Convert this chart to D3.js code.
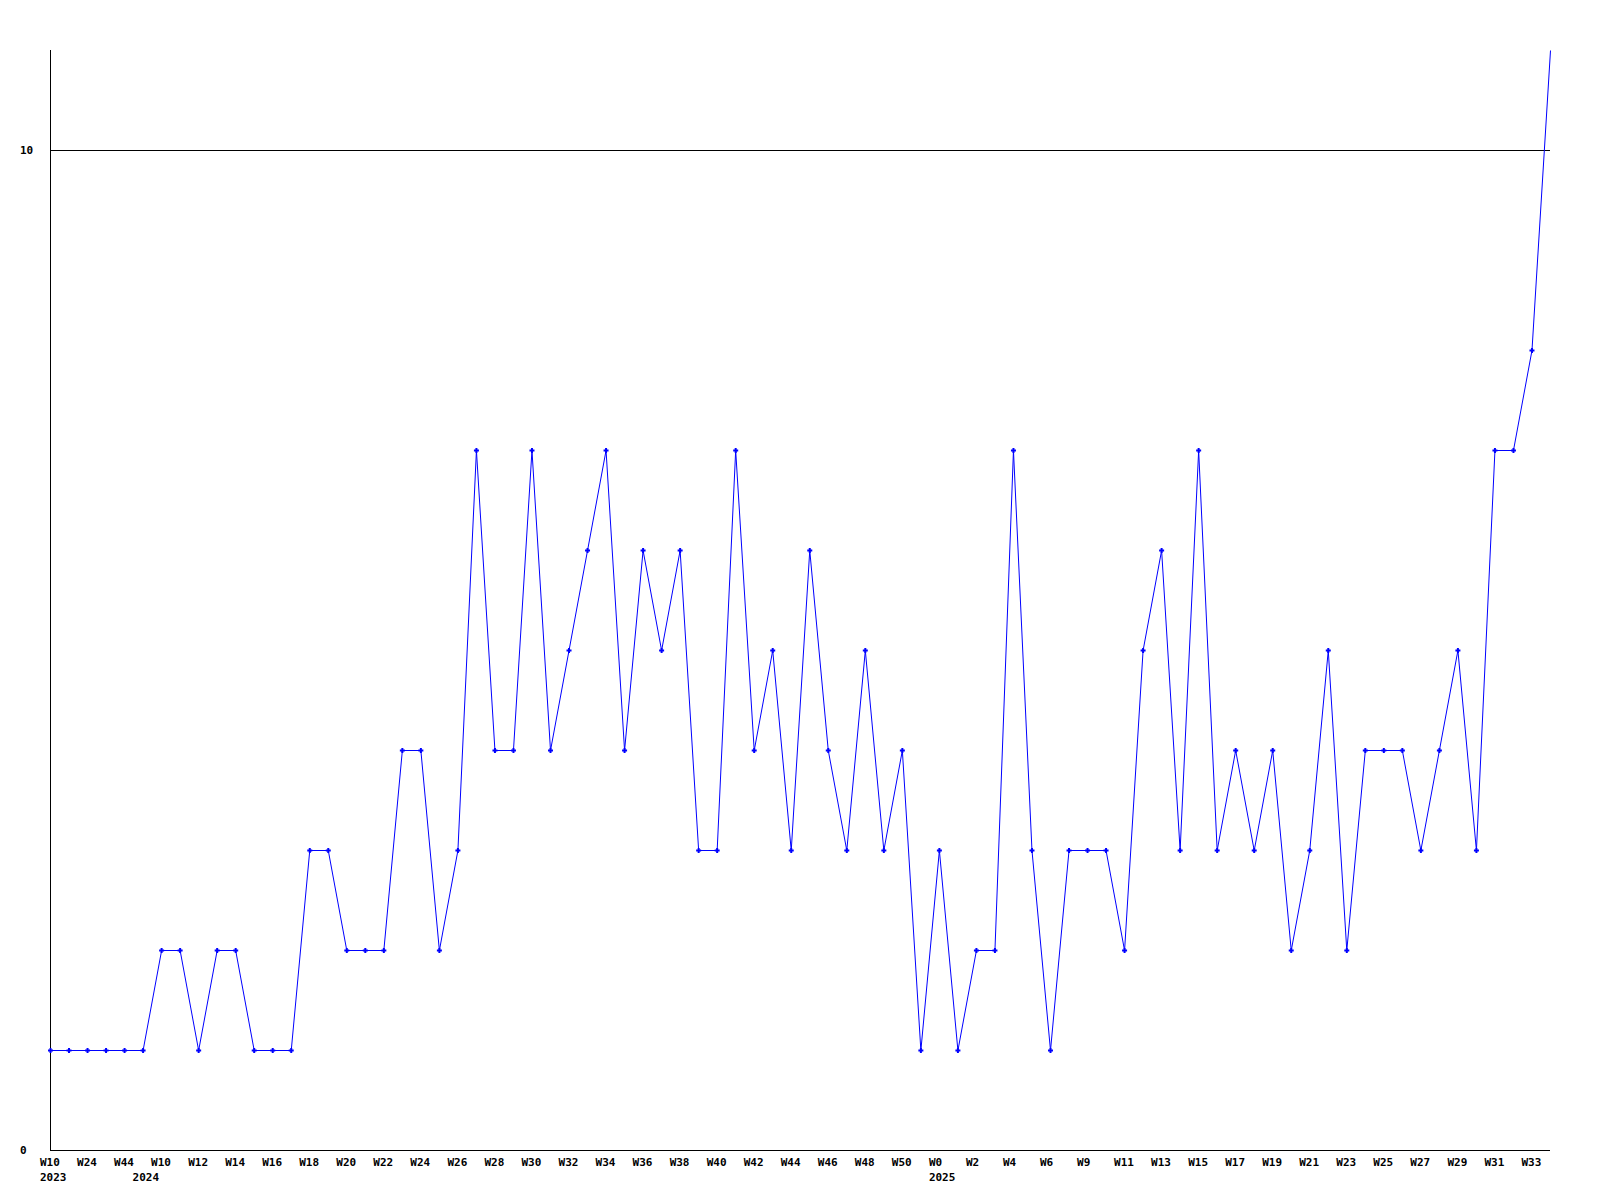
<!DOCTYPE html>
<html>
<head>
<meta charset="utf-8">
<script src="https://cdn.jsdelivr.net/npm/d3@7"></script>
<style>
  html, body { margin: 0; padding: 0; background: #fff; }
  svg { display: block; }
  text { font-family: "DejaVu Sans Mono", "Liberation Mono", monospace; font-weight: bold; font-size: 11px; fill: #000; }
</style>
</head>
<body>
<svg id="chart" width="1600" height="1200"></svg>
<script>
// ---- data ----
const weeks = [
  "W10","W17","W24","W35","W44","W5","W10","W11","W12","W13",
  "W14","W15","W16","W17","W18","W19","W20","W21","W22","W23",
  "W24","W25","W26","W27","W28","W29","W30","W31","W32","W33",
  "W34","W35","W36","W37","W38","W39","W40","W41","W42","W43",
  "W44","W45","W46","W47","W48","W49","W50","W51","W0","W1",
  "W2","W3","W4","W5","W6","W7","W9","W10","W11","W12",
  "W13","W14","W15","W16","W17","W18","W19","W20","W21","W22",
  "W23","W24","W25","W26","W27","W28","W29","W30","W31","W32",
  "W33","W34"
];
const yearLabels = [
  { index: 0, label: "2023" },
  { index: 5, label: "2024" },
  { index: 48, label: "2025" }
];
const values = [
  1,1,1,1,1,1,2,2,1,2,
  2,1,1,1,3,3,2,2,2,4,
  4,2,3,7,4,4,7,4,5,6,
  7,4,6,5,6,3,3,7,4,5,
  3,6,4,3,5,3,4,1,3,1,
  2,2,7,3,1,3,3,3,2,5,
  6,3,7,3,4,3,4,2,3,5,
  2,4,4,4,3,4,5,3,7,7,
  8,11
];
const yTicks = [0, 10];
const yMax = 11;

// ---- drawing ----
const svg = d3.select("#chart");
const plotLeft = 50, plotRight = 1550, plotTop = 50, plotBottom = 1150;

const x = d3.scalePoint().domain(d3.range(values.length)).range([plotLeft, plotRight]).padding(0);
const y = d3.scaleLinear().domain([0, yMax]).range([plotBottom, plotTop]);

// gridline(s) for non-zero ticks
svg.append("g").selectAll("line")
  .data(yTicks.filter(d => d > 0))
  .join("line")
  .attr("x1", plotLeft).attr("x2", plotRight)
  .attr("y1", d => Math.round(y(d)) + 0.5).attr("y2", d => Math.round(y(d)) + 0.5)
  .attr("stroke", "#000").attr("stroke-width", 1)
  .attr("shape-rendering", "crispEdges");

// axes lines
svg.append("line")
  .attr("x1", plotLeft + 0.5).attr("x2", plotLeft + 0.5)
  .attr("y1", plotTop).attr("y2", plotBottom + 1)
  .attr("stroke", "#000").attr("shape-rendering", "crispEdges");
svg.append("line")
  .attr("x1", plotLeft).attr("x2", plotRight)
  .attr("y1", plotBottom + 0.5).attr("y2", plotBottom + 0.5)
  .attr("stroke", "#000").attr("shape-rendering", "crispEdges");

// y labels
svg.append("g").selectAll("text")
  .data(yTicks)
  .join("text")
  .attr("x", 20)
  .attr("y", d => y(d) + 4)
  .text(d => d);

// x labels (every other point)
svg.append("g").selectAll("text")
  .data(weeks.map((w, i) => ({ w, i })).filter(d => d.i % 2 === 0))
  .join("text")
  .attr("x", d => x(d.i) - 10)
  .attr("y", 1166)
  .text(d => d.w);

// year labels
svg.append("g").selectAll("text")
  .data(yearLabels)
  .join("text")
  .attr("x", d => x(d.index) - 10)
  .attr("y", 1181)
  .text(d => d.label);

// line
const line = d3.line()
  .x((d, i) => x(i) + 0.5)
  .y(d => y(d) + 0.5);

svg.append("path")
  .datum(values)
  .attr("d", line)
  .attr("fill", "none")
  .attr("stroke", "#0000ff")
  .attr("stroke-width", 1);

// markers (small crosses)
svg.append("g").selectAll("path")
  .data(values.slice(0, values.length - 1))
  .join("path")
  .attr("d", (d, i) => {
    const cx = x(i) + 0.5, cy = y(d) + 0.5;
    return `M${cx - 2.5},${cy}H${cx + 2.5}M${cx},${cy - 2.5}V${cy + 2.5}`;
  })
  .attr("stroke", "#0000ff")
  .attr("stroke-width", 2)
  .attr("fill", "none");
</script>
</body>
</html>
